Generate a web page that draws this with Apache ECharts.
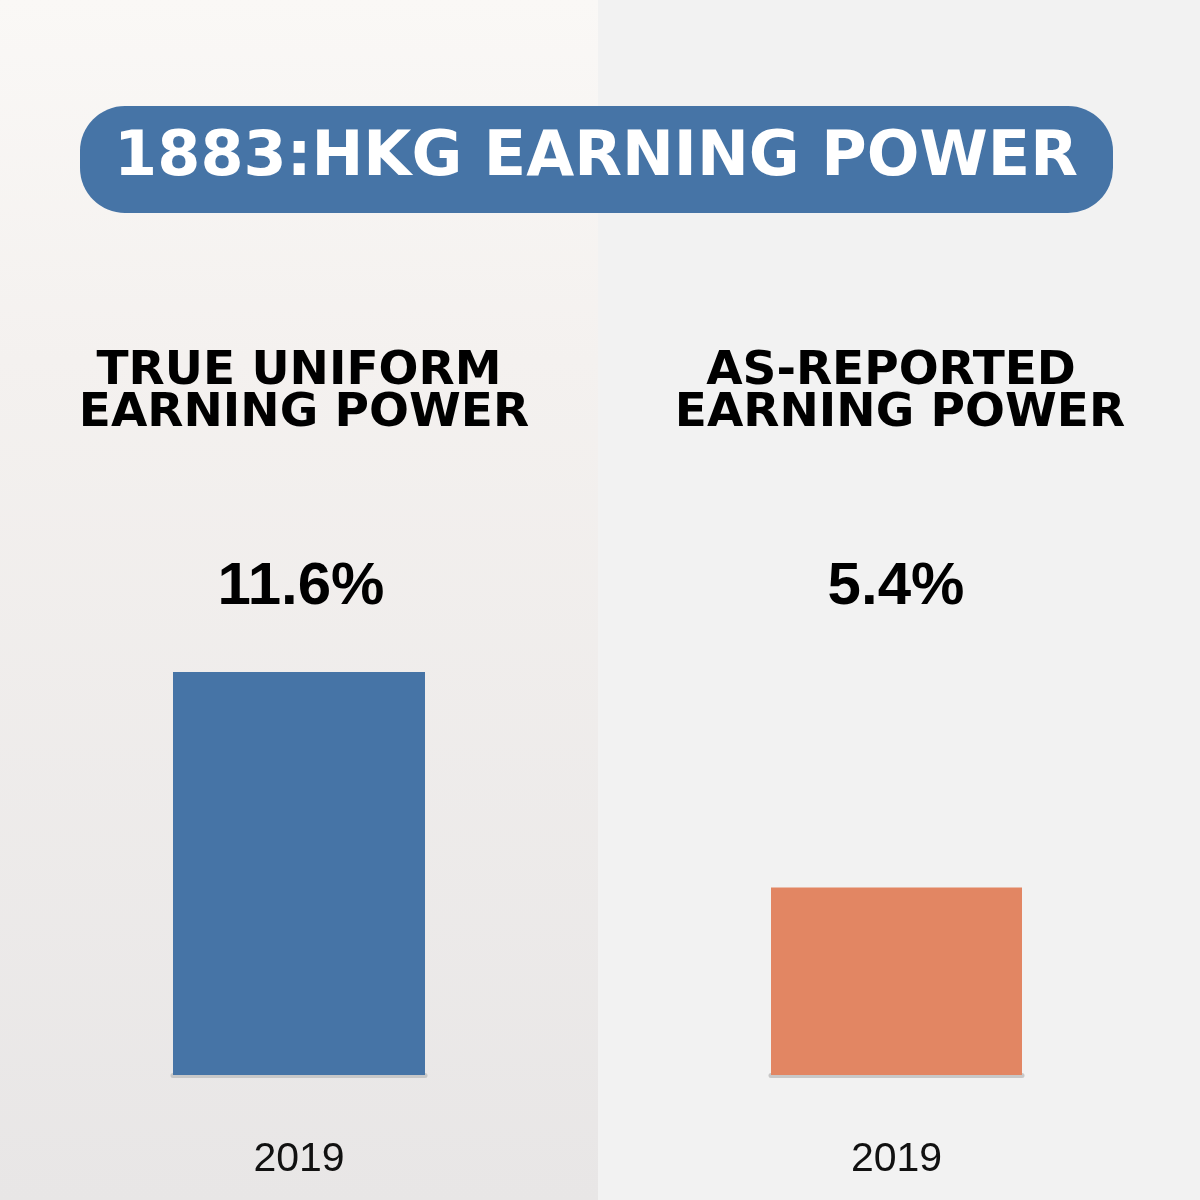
<!DOCTYPE html>
<html>
<head>
<meta charset="utf-8">
<script src="https://cdn.jsdelivr.net/npm/echarts@6/dist/echarts.min.js"></script>
<style>html,body{margin:0;padding:0;}#main{width:1200px;height:1200px;}</style>
</head>
<body>
<div id="main"></div>
<script>
var categories = ['2019'];
var trueValues = [11.6];
var reportedValues = [5.4];
var panelTitles = [['TRUE UNIFORM', 'EARNING POWER'], ['AS-REPORTED', 'EARNING POWER']];
var chartTitle = '1883:HKG EARNING POWER';

var myChart = echarts.init(document.getElementById('main'));

function fmt(v) { return v.toFixed(1) + '%'; }

var axisCommon = {
    type: 'category',
    data: categories,
    axisTick: {show: false},
    axisLine: {lineStyle: {color: '#c8c8c8', width: 5}},
    axisLabel: {color: '#111', fontSize: 41, fontFamily: 'Liberation Sans', margin: 64}
};
var yCommon = {type: 'value', min: 0, max: 11.6, show: false};
var subFont = 'bold 47px "DejaVu Sans"';

var option = {
    backgroundColor: '#f2f2f2',
    animation: false,
    grid: [
        {left: 173, width: 252, top: 672, bottom: 125},
        {left: 771, width: 251, top: 672, bottom: 125}
    ],
    xAxis: [
        Object.assign({gridIndex: 0}, axisCommon),
        Object.assign({gridIndex: 1}, axisCommon)
    ],
    yAxis: [
        Object.assign({gridIndex: 0}, yCommon),
        Object.assign({gridIndex: 1}, yCommon)
    ],
    series: [
        {type: 'bar', xAxisIndex: 0, yAxisIndex: 0, data: trueValues, barWidth: '100%', itemStyle: {color: '#4674a6'}},
        {type: 'bar', xAxisIndex: 1, yAxisIndex: 1, data: reportedValues, barWidth: '100%', itemStyle: {color: '#e28663'}}
    ],
    graphic: [
        {type: 'rect', left: 0, top: 0, z: -10, shape: {width: 598, height: 1200},
            style: {fill: new echarts.graphic.LinearGradient(0, 0, 0, 1, [
                {offset: 0, color: '#faf8f6'}, {offset: 0.3, color: '#f4f1ef'}, {offset: 1, color: '#e8e6e6'}])}},
        {type: 'rect', left: 80, top: 106, shape: {width: 1033, height: 107, r: 45}, style: {fill: '#4674a6'}},
        {type: 'text', x: 596, y: 159, style: {text: chartTitle, fill: '#fff', font: 'bold 62px "DejaVu Sans"', align: 'center', verticalAlign: 'middle'}},
        {type: 'text', x: 299, y: 372, style: {text: panelTitles[0][0], fill: '#000', font: subFont, align: 'center', verticalAlign: 'middle'}},
        {type: 'text', x: 304, y: 414, style: {text: panelTitles[0][1], fill: '#000', font: subFont, align: 'center', verticalAlign: 'middle'}},
        {type: 'text', x: 891, y: 372, style: {text: panelTitles[1][0], fill: '#000', font: subFont, align: 'center', verticalAlign: 'middle'}},
        {type: 'text', x: 900, y: 414, style: {text: panelTitles[1][1], fill: '#000', font: subFont, align: 'center', verticalAlign: 'middle'}},
        {type: 'text', x: 301, y: 587, style: {text: fmt(trueValues[0]), fill: '#000', font: 'bold 60px "Liberation Sans"', align: 'center', verticalAlign: 'middle'}},
        {type: 'text', x: 896, y: 587, style: {text: fmt(reportedValues[0]), fill: '#000', font: 'bold 60px "Liberation Sans"', align: 'center', verticalAlign: 'middle'}}
    ]
};
myChart.setOption(option);
</script>
</body>
</html>
